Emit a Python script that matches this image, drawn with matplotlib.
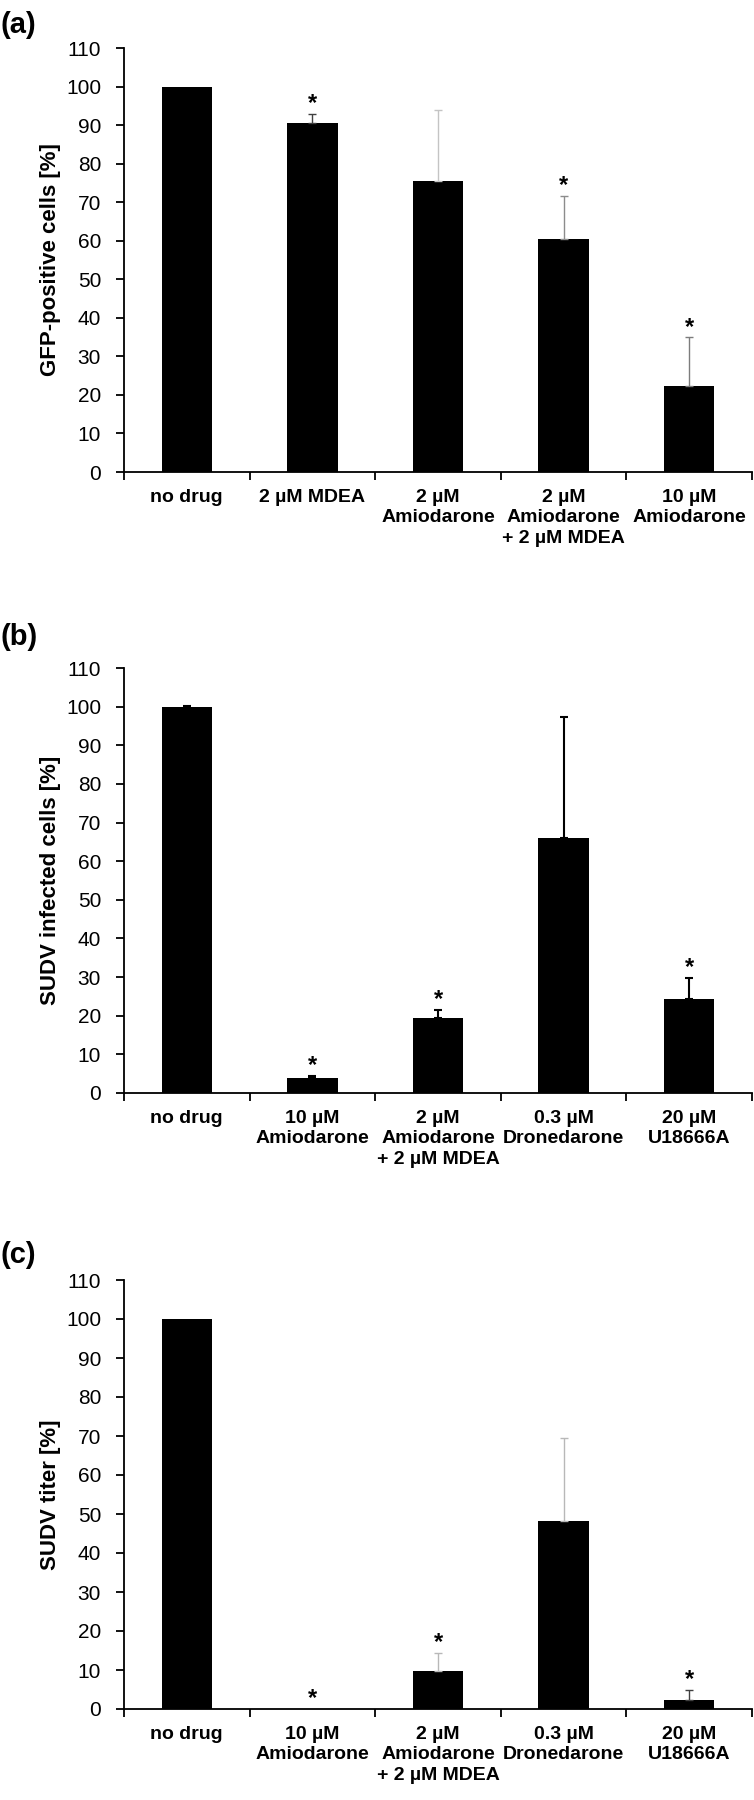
import matplotlib.pyplot as plt

plt.rcParams['font.family'] = ['Liberation Sans', 'DejaVu Sans']

# data
labels_a = ['no drug', '2 µM MDEA', '2 µM\nAmiodarone', '2 µM\nAmiodarone\n+ 2 µM MDEA', '10 µM\nAmiodarone']
labels_bc = ['no drug', '10 µM\nAmiodarone', '2 µM\nAmiodarone\n+ 2 µM MDEA', '0.3 µM\nDronedarone', '20 µM\nU18666A']

vals_a = [100, 90.6, 75.5, 60.4, 22.4]
err_a = [0, 2.3, 18.4, 11.2, 12.5]
star_a = [False, True, False, True, True]
errcol_a = ['#404040', '#404040', '#c4c4c4', '#8c8c8c', '#7c7c7c']

vals_b = [100, 4.0, 19.3, 66.1, 24.4]
err_b = [0.1, 0.5, 2.2, 31.2, 5.3]
star_b = [False, True, True, False, True]
errcol_b = ['black', 'black', 'black', 'black', 'black']

vals_c = [100, 0, 9.7, 48.2, 2.4]
err_c = [0, 0, 4.7, 21.2, 2.5]
star_c = [False, True, True, False, True]
errcol_c = ['#404040', '#404040', '#b8b8b8', '#b8b8b8', '#404040']

ylabels = ['GFP-positive cells [%]', 'SUDV infected cells [%]', 'SUDV titer [%]']
panel_tags = ['(a)', '(b)', '(c)']

fig = plt.figure(figsize=(7.54, 18), dpi=100)

# axes boxes in pixels: top, bottom
boxes = [(48, 472), (668, 1093), (1280, 1709)]
tag_y = [25, 637, 1255]
left, right = 124, 752
W, H = 754, 1800

panels = [
    (labels_a, vals_a, err_a, star_a, errcol_a, 1.0),
    (labels_bc, vals_b, err_b, star_b, errcol_b, 1.5),
    (labels_bc, vals_c, err_c, star_c, errcol_c, 1.0),
]

for i, (labs, vals, errs, stars, ecols, elw) in enumerate(panels):
    top, bot = boxes[i]
    ax = fig.add_axes([left / W, 1 - bot / H, (right - left) / W, (bot - top) / H])
    x = list(range(len(vals)))
    ax.bar(x, vals, width=0.4, color='black')
    for xi, v, e, c in zip(x, vals, errs, ecols):
        if e > 0:
            ax.errorbar(xi, v, yerr=[[0], [e]], fmt='none', ecolor=c,
                        elinewidth=elw, capsize=3, capthick=elw)
    for xi, v, e, s in zip(x, vals, errs, stars):
        if s:
            ax.text(xi, v + e + 1.0, '*', ha='center', va='baseline',
                    fontsize=17, fontweight='bold')
    ax.set_xlim(-0.5, len(vals) - 0.5)
    ax.set_ylim(0, 110)
    ax.set_yticks(range(0, 111, 10))
    ax.set_xticks([k - 0.5 for k in range(len(vals) + 1)])
    ax.set_xticklabels([])
    ax.set_xticks(x, minor=True)
    ax.set_xticklabels(labs, minor=True, fontsize=14, fontweight='bold', linespacing=1.27)
    ax.tick_params(axis='x', which='minor', length=0, pad=12)
    ax.tick_params(axis='x', which='major', length=6, width=1.3, direction='out')
    ax.tick_params(axis='y', length=6, width=1.3, direction='out', labelsize=15, pad=10.5)
    for sp in ['top', 'right']:
        ax.spines[sp].set_visible(False)
    for sp in ['left', 'bottom']:
        ax.spines[sp].set_linewidth(1.3)
    ax.set_ylabel(ylabels[i], fontsize=16, fontweight='bold')
    ax.yaxis.set_label_coords(-0.100, 0.5)
    fig.text(0.0, 1 - tag_y[i] / H, panel_tags[i], fontsize=21, fontweight='bold',
             ha='left', va='center')

plt.savefig('out.png', dpi=100)
